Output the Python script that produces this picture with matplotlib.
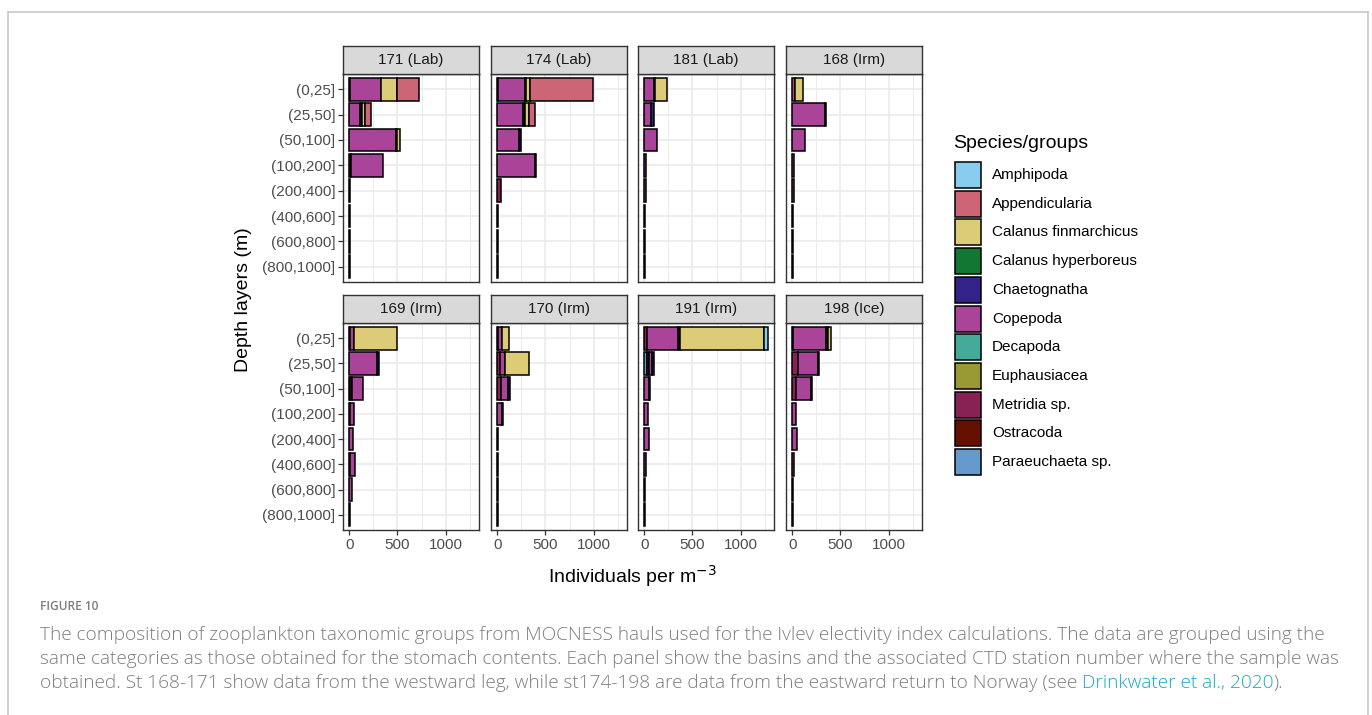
import matplotlib
matplotlib.use("Agg")
import matplotlib.pyplot as plt
from matplotlib.patches import Rectangle
from matplotlib.lines import Line2D
from matplotlib.ticker import MultipleLocator
import numpy as np

plt.rcParams['font.family'] = ['Liberation Sans', 'DejaVu Sans']

depths = ["(0,25]", "(25,50]", "(50,100]", "(100,200]",
          "(200,400]", "(400,600]", "(600,800]", "(800,1000]"]

species = ["Amphipoda", "Appendicularia", "Calanus finmarchicus",
           "Calanus hyperboreus", "Chaetognatha", "Copepoda", "Decapoda",
           "Euphausiacea", "Metridia sp.", "Ostracoda", "Paraeuchaeta sp."]
colors = ["#88CCEE", "#CC6677", "#DDCC77", "#117733", "#332288", "#AA4499",
          "#44AA99", "#999933", "#882255", "#661100", "#6699CC"]

stations = ["171 (Lab)", "174 (Lab)", "181 (Lab)", "168 (Irm)",
            "169 (Irm)", "170 (Irm)", "191 (Irm)", "198 (Ice)"]

# individuals per m^-3, one list per depth layer (top to bottom)
st171 = {"Metridia sp.": [10, 0, 0, 0, 0, 0, 0, 0],
         "Ostracoda": [0, 0, 0, 20, 0, 0, 0, 0],
         "Copepoda": [320, 110, 480, 330, 12, 8, 5, 4],
         "Chaetognatha": [0, 20, 20, 0, 0, 0, 0, 0],
         "Calanus finmarchicus": [170, 30, 30, 0, 0, 0, 0, 0],
         "Appendicularia": [220, 70, 0, 0, 0, 0, 0, 0]}
st174 = {"Metridia sp.": [5, 0, 0, 0, 40, 0, 0, 0],
         "Copepoda": [280, 265, 225, 395, 0, 8, 5, 5],
         "Chaetognatha": [10, 20, 25, 5, 0, 0, 0, 0],
         "Calanus finmarchicus": [45, 45, 0, 0, 0, 0, 0, 0],
         "Appendicularia": [650, 65, 0, 0, 0, 0, 0, 0]}
st181 = {"Copepoda": [105, 75, 130, 15, 15, 10, 8, 5],
         "Chaetognatha": [5, 25, 0, 0, 0, 0, 0, 0],
         "Calanus finmarchicus": [125, 0, 0, 0, 0, 0, 0, 0]}
st168 = {"Copepoda": [30, 335, 130, 20, 20, 12, 10, 5],
         "Chaetognatha": [0, 15, 0, 0, 0, 0, 0, 0],
         "Calanus finmarchicus": [80, 0, 0, 0, 0, 0, 0, 0]}
st169 = {"Ostracoda": [0, 0, 10, 0, 0, 0, 0, 0],
         "Metridia sp.": [10, 0, 20, 5, 0, 10, 0, 0],
         "Copepoda": [35, 285, 110, 50, 40, 55, 25, 8],
         "Chaetognatha": [0, 20, 0, 0, 0, 0, 0, 0],
         "Calanus finmarchicus": [450, 0, 0, 0, 0, 0, 0, 0]}
st170 = {"Metridia sp.": [10, 25, 35, 0, 0, 0, 0, 0],
         "Copepoda": [35, 55, 80, 55, 12, 10, 8, 5],
         "Chaetognatha": [0, 0, 15, 8, 0, 0, 0, 0],
         "Calanus finmarchicus": [80, 245, 0, 0, 0, 0, 0, 0]}
st191 = {"Paraeuchaeta sp.": [0, 30, 0, 0, 0, 0, 0, 0],
         "Metridia sp.": [25, 15, 0, 0, 0, 0, 0, 0],
         "Copepoda": [320, 35, 55, 40, 45, 15, 12, 8],
         "Chaetognatha": [30, 25, 10, 0, 0, 0, 0, 0],
         "Calanus finmarchicus": [870, 0, 0, 0, 0, 0, 0, 0],
         "Amphipoda": [35, 0, 0, 0, 0, 0, 0, 0]}
st198 = {"Metridia sp.": [10, 65, 35, 0, 0, 0, 0, 0],
         "Copepoda": [340, 200, 155, 40, 50, 15, 12, 8],
         "Chaetognatha": [25, 15, 20, 0, 0, 0, 0, 0],
         "Calanus finmarchicus": [25, 0, 0, 0, 0, 0, 0, 0]}
station_data = [st171, st174, st181, st168, st169, st170, st191, st198]

W, H = 1372, 715
fig = plt.figure(figsize=(W / 100, H / 100), dpi=100)


def fx(px):
    return px / W


def fy(px):
    return 1 - px / H


# page frame
fig.add_artist(Line2D([fx(8), fx(8)], [fy(12), 0], color="#c8c8c8", lw=1.2))
fig.add_artist(Line2D([fx(8), fx(1368)], [fy(12), fy(12)], color="#c8c8c8", lw=1.2))
fig.add_artist(Line2D([fx(1368), fx(1368)], [fy(12), 0], color="#c8c8c8", lw=1.2))

col_left = [343, 491, 638, 786]
pan_w = 136
rows = [(46, 74, 282), (295, 323, 530)]

totals = [np.sum([v for v in d.values()], axis=0).max() for d in station_data]
xmax = max(totals)
xlim = (-0.05 * xmax, 1.05 * xmax)
ypos = np.arange(len(depths))

for k, (name, data) in enumerate(zip(stations, station_data)):
    r, c = divmod(k, 4)
    st_top, body_top, body_bot = rows[r]
    x0 = col_left[c]
    ax = fig.add_axes([fx(x0), fy(body_bot), fx(pan_w), (body_bot - body_top) / H])
    left = np.zeros(len(depths))
    # ggplot stacks the last factor level next to zero
    for sp in species[::-1]:
        if sp not in data:
            continue
        vals = np.array(data[sp], dtype=float)
        m = vals > 0
        ax.barh(ypos[m], vals[m], left=left[m], height=0.9,
                color=colors[species.index(sp)], edgecolor="black", linewidth=1.1)
        left += vals
    ax.set_xlim(*xlim)
    ax.set_ylim(len(depths) - 0.4, -0.6)
    ax.set_yticks(ypos)
    ax.set_xticks([0, 500, 1000])
    ax.xaxis.set_minor_locator(MultipleLocator(250))
    ax.set_axisbelow(True)
    ax.grid(which="major", color="#EBEBEB", lw=1.2)
    ax.grid(which="minor", axis="x", color="#EBEBEB", lw=0.7)
    for s in ax.spines.values():
        s.set_color("#333333")
        s.set_linewidth(1)
    ax.tick_params(which="major", length=3.5, width=0.9, color="#333333",
                   labelsize=11, labelcolor="#4D4D4D", pad=2)
    ax.tick_params(which="minor", length=0)
    if c == 0:
        ax.set_yticklabels(depths)
    else:
        ax.tick_params(axis="y", left=False, labelleft=False)
    if r == 1:
        ax.set_xticklabels(["0", "500", "1000"])
    else:
        ax.tick_params(axis="x", bottom=False, labelbottom=False)

    sax = fig.add_axes([fx(x0), fy(body_top), fx(pan_w), (body_top - st_top) / H])
    sax.set_facecolor("#D9D9D9")
    sax.set_xticks([])
    sax.set_yticks([])
    for s in sax.spines.values():
        s.set_color("#333333")
        s.set_linewidth(1)
    sax.text(0.5, 0.5, name, ha="center", va="center", fontsize=11,
             color="#1A1A1A", transform=sax.transAxes)

fig.text(fx(632), fy(576), "Individuals per m$^{-3}$", ha="center", va="center",
         fontsize=14, color="black")
fig.text(fx(243), fy(300), "Depth layers (m)", ha="center", va="center",
         rotation=90, fontsize=14, color="black")

# legend
fig.text(fx(953), fy(143), "Species/groups", ha="left", va="center", fontsize=14)
for i, sp in enumerate(species):
    yc = 175 + i * 28.7
    fig.add_artist(Rectangle((fx(955), fy(yc + 13)), fx(26), 26 / H,
                             facecolor=colors[i], edgecolor="black", lw=1.1))
    fig.text(fx(992), fy(yc), sp, ha="left", va="center", fontsize=11)

# caption
cap_col = "#7d7d7d"
cap_font = ["Open Sans", "DejaVu Sans"]
cap_size = 13.7
fig.text(fx(40), fy(606), "FIGURE 10", ha="left", va="center", fontsize=8.6,
         color=cap_col, family=cap_font, weight="semibold")
lines = ["The composition of zooplankton taxonomic groups from MOCNESS hauls used for the Ivlev electivity index calculations. The data are grouped using the",
         "same categories as those obtained for the stomach contents. Each panel show the basins and the associated CTD station number where the sample was"]
for i, ln in enumerate(lines):
    fig.text(fx(40), fy(635 + i * 24), ln, ha="left", va="center", fontsize=cap_size,
             color=cap_col, family=cap_font, weight="light")

fig.canvas.draw()
r = fig.canvas.get_renderer()
parts = [("obtained. St 168-171 show data from the westward leg, while st174-198 are data from the eastward return to Norway (see ", cap_col),
         ("Drinkwater et al., 2020", "#17A9C6"),
         (").", cap_col)]
xpos = fx(40)
for txt, col in parts:
    t = fig.text(xpos, fy(683), txt, ha="left", va="center", fontsize=cap_size,
                 color=col, family=cap_font, weight="light")
    bb = t.get_window_extent(renderer=r)
    xpos = bb.x1 / W

fig.savefig("out.png", dpi=100)
